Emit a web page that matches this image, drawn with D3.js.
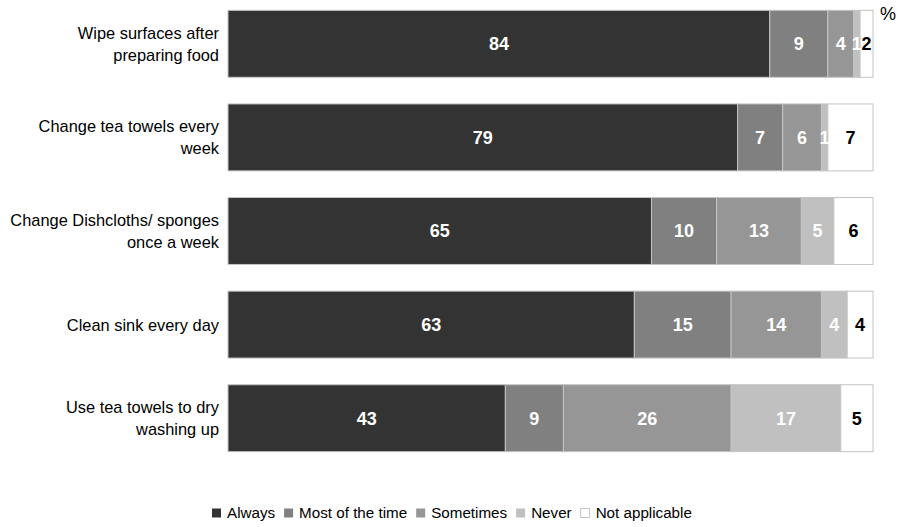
<!DOCTYPE html>
<html><head><meta charset="utf-8">
<script src="https://cdn.jsdelivr.net/npm/d3@7"></script>
<style>body{margin:0;background:#fff}svg{display:block;font-family:"Liberation Sans",Arial,sans-serif}</style>
</head><body><svg id="c" width="898" height="527"></svg>
<script>
const categories = [
  ["Wipe surfaces after","preparing food"],
  ["Change tea towels every","week"],
  ["Change Dishcloths/ sponges","once a week"],
  ["Clean sink every day"],
  ["Use tea towels to dry","washing up"]
];
const seriesNames = ["Always","Most of the time","Sometimes","Never","Not applicable"];
const always     = [84,79,65,63,43];
const mostOfTime = [9,7,10,15,9];
const sometimes  = [4,6,13,14,26];
const never      = [1,1,5,4,17];
const notApplic  = [2,7,6,4,5];
const colors = ["#333333","#808080","#969696","#c0c0c0","#ffffff"];
const labelColors = ["#fff","#fff","#fff","#fff","#000"];

const series = [always,mostOfTime,sometimes,never,notApplic];
const svg = d3.select("#c");
const x = d3.scaleLinear().domain([0,1]).range([228,873]);
const y = d3.scaleBand().domain(d3.range(categories.length)).range([-3,465]).paddingInner(0.285).paddingOuter(0.1425);

categories.forEach((cat,i)=>{
  const total = d3.sum(series,s=>s[i]);
  let cum = 0;
  const g = svg.append("g");
  series.forEach((s,k)=>{
    const v = s[i];
    const x0 = x(cum/total), x1 = x((cum+v)/total);
    g.append("rect").attr("x",x0).attr("y",y(i)).attr("width",x1-x0).attr("height",y.bandwidth())
      .attr("fill",colors[k]).attr("stroke","#c4c4c4").attr("stroke-width",1);
    cum += v;
  });
  cum = 0;
  series.forEach((s,k)=>{
    const v = s[i];
    const xm = x((cum+v/2)/total);
    g.append("text").attr("x",xm).attr("y",y(i)+y.bandwidth()/2).attr("dy","0.36em")
      .attr("text-anchor","middle").attr("font-size",18).attr("font-weight","bold")
      .attr("fill",labelColors[k]).text(v);
    cum += v;
  });
  const cy = y(i)+y.bandwidth()/2;
  const lh = 22;
  const n = cat.length;
  cat.forEach((line,j)=>{
    svg.append("text").attr("x",219).attr("y",cy + (j-(n-1)/2)*lh).attr("dy","0.36em")
      .attr("text-anchor","end").attr("font-size",16.4).attr("fill","#000").text(line);
  });
});

svg.append("text").attr("x",888).attr("y",20).attr("text-anchor","middle").attr("font-size",18).text("%");

// legend
const legend = svg.append("g");
let lx = 212;
const ly = 513;
seriesNames.forEach((name,k)=>{
  legend.append("rect").attr("x",lx).attr("y",ly-4.5).attr("width",9).attr("height",9)
    .attr("fill",colors[k]).attr("stroke","#c4c4c4").attr("stroke-width",k===4?1:0);
  const t = legend.append("text").attr("x",lx+15).attr("y",ly).attr("dy","0.36em")
    .attr("font-size",15.2).attr("fill","#000").text(name);
  const w = t.node().getComputedTextLength();
  lx = lx + 15 + w + 9;
});
</script></body></html>
